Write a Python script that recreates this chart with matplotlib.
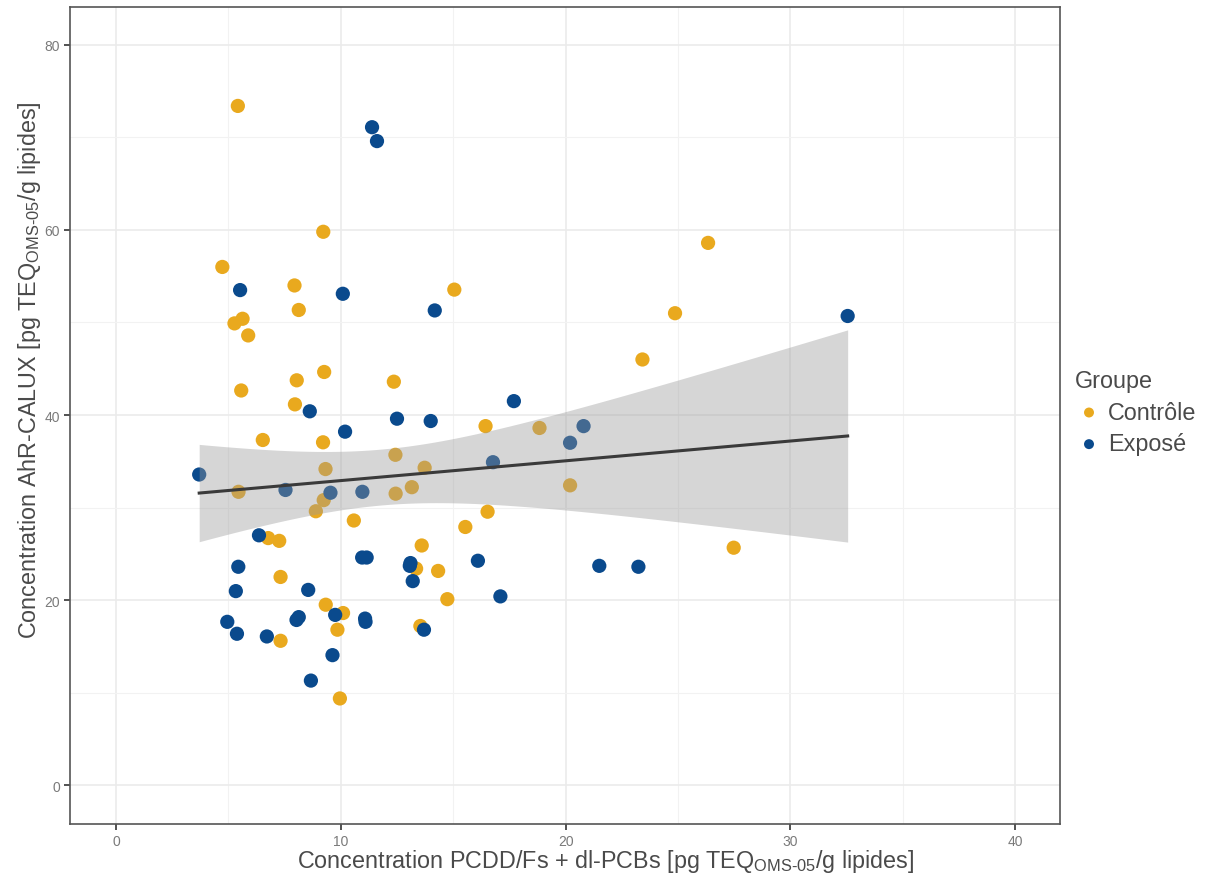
import numpy as np
import matplotlib.pyplot as plt

# Groupe Contrôle
ctrl_x = [5.42, 9.22, 4.73, 7.94, 15.05, 8.13, 5.63, 5.27, 5.88, 9.26, 8.04, 12.36,
          5.57, 7.96, 26.34, 24.87, 23.42, 6.53, 9.21, 16.44, 18.84, 12.43, 9.32,
          13.73, 5.45, 12.44, 13.16, 9.24, 8.89, 20.2, 16.53, 10.58, 15.54, 6.77,
          7.26, 13.6, 27.48, 13.35, 14.33, 7.32, 14.74, 9.33, 10.1, 13.54, 9.85,
          7.32, 9.96]
ctrl_y = [73.4, 59.8, 56.0, 54.0, 53.55, 51.35, 50.4, 49.9, 48.6, 44.65, 43.75, 43.6,
          42.65, 41.15, 58.6, 51.0, 46.0, 37.3, 37.05, 38.8, 38.6, 35.7, 34.16,
          34.3, 31.7, 31.5, 32.2, 30.8, 29.6, 32.4, 29.55, 28.6, 27.9, 26.7,
          26.4, 25.9, 25.66, 23.4, 23.15, 22.5, 20.1, 19.5, 18.6, 17.2, 16.8,
          15.6, 9.37]

# Groupe Exposé
expo_x = [11.39, 11.61, 5.52, 10.09, 14.18, 32.55, 17.7, 8.62, 12.5, 14.0, 10.19,
          20.8, 20.2, 16.77, 3.7, 7.54, 9.54, 10.96, 6.36, 10.95, 11.15, 5.44,
          13.07, 13.1, 16.1, 21.5, 23.24, 13.2, 8.55, 5.33, 17.1, 9.75, 8.03,
          8.13, 11.08, 11.1, 4.95, 5.38, 6.71, 13.7, 9.63, 8.67]
expo_y = [71.1, 69.6, 53.5, 53.1, 51.3, 50.7, 41.5, 40.4, 39.6, 39.35, 38.2,
          38.8, 37.0, 34.9, 33.57, 31.9, 31.6, 31.7, 27.0, 24.6, 24.6, 23.6,
          23.7, 24.0, 24.25, 23.7, 23.6, 22.05, 21.1, 20.97, 20.4, 18.4, 17.85,
          18.16, 18.0, 17.65, 17.65, 16.36, 16.07, 16.8, 14.05, 11.3]

col_ctrl = '#E9A91E'
col_expo = '#0A4A8D'

plt.rcParams['font.family'] = ['Liberation Sans', 'DejaVu Sans']
plt.rcParams['mathtext.fontset'] = 'custom'
plt.rcParams['mathtext.rm'] = 'Liberation Sans'

fig = plt.figure(figsize=(12.06, 8.79), dpi=100)
ax = fig.add_axes([0.058, 0.0614, 0.821, 0.9296])

ax.scatter(ctrl_x, ctrl_y, s=105, color=col_ctrl, edgecolors='none', zorder=3, label='Contrôle')
ax.scatter(expo_x, expo_y, s=105, color=col_expo, edgecolors='none', zorder=3, label='Exposé')

# droite de régression linéaire + IC 95%
all_x = np.array(ctrl_x + expo_x)
all_y = np.array(ctrl_y + expo_y)
n = len(all_x)
b1, b0 = np.polyfit(all_x, all_y, 1)
resid = all_y - (b0 + b1 * all_x)
s = np.sqrt(np.sum(resid ** 2) / (n - 2))
xs = np.linspace(all_x.min(), all_x.max(), 100)
ys = b0 + b1 * xs
se = s * np.sqrt(1 / n + (xs - all_x.mean()) ** 2 / np.sum((all_x - all_x.mean()) ** 2))
t = 1.9876
ax.fill_between(xs, ys - t * se, ys + t * se, color='#999999', alpha=0.4, lw=0, zorder=4)
ax.plot(xs, ys, color='#3a3a3a', lw=2.2, zorder=5)

ax.set_xlim(-2.05, 42.0)
ax.set_ylim(-4.2, 84.1)
ax.set_xticks([0, 10, 20, 30, 40])
ax.set_yticks([0, 20, 40, 60, 80])
ax.set_xticks([5, 15, 25, 35], minor=True)
ax.set_yticks([10, 30, 50, 70], minor=True)
ax.grid(which='major', color='#EBEBEB', lw=1.2, zorder=0)
ax.grid(which='minor', color='#F2F2F2', lw=0.8, zorder=0)
ax.set_axisbelow(True)
ax.tick_params(which='major', length=4, width=1.2, color='#333333', labelsize=10,
               labelcolor='#7a7a7a', pad=3)
ax.tick_params(which='minor', length=0)
for sp in ax.spines.values():
    sp.set_color('#555555')
    sp.set_linewidth(1.2)

ax.set_xlabel(r'Concentration PCDD/Fs + dl-PCBs [pg TEQ$_{\text{OMS-05}}$/g lipides]',
              fontsize=16.8, color='#4a4a4a')
ax.set_ylabel(r'Concentration AhR-CALUX [pg TEQ$_{\text{OMS-05}}$/g lipides]',
              fontsize=16.8, color='#4a4a4a')
ax.xaxis.set_label_coords(0.541, -0.028)
ax.yaxis.set_label_coords(-0.027, 0.557)

leg = ax.legend(title='Groupe', loc='upper left', bbox_to_anchor=(1075 / 1206, 1 - 370 / 879),
                bbox_transform=fig.transFigure, frameon=False, fontsize=16.8,
                title_fontsize=16.8, handlelength=1.2, handletextpad=0.2,
                markerscale=0.7, labelspacing=0.37, borderpad=0, borderaxespad=0)
leg._legend_box.align = 'left'
for txt in leg.get_texts():
    txt.set_color('#4a4a4a')
leg.get_title().set_color('#4a4a4a')

fig.savefig('out.png', dpi=100)
